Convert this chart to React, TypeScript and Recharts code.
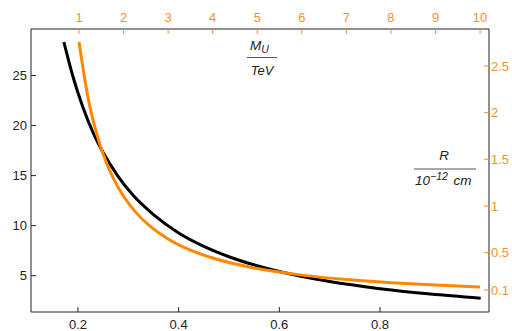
import { ComposedChart, Customized, Line, XAxis, YAxis } from "recharts"

// black curve: bottom axis (R) vs left axis (M_U)
const blackX = [0.172, 0.19, 0.21, 0.23, 0.25, 0.28, 0.31, 0.35, 0.4, 0.45, 0.5, 0.6, 0.7, 0.8, 0.9, 1.0]
const blackY = [28.35, 24.9, 21.8, 19.3, 17.3, 14.9, 13.0, 11.1, 9.27, 7.93, 6.89, 5.41, 4.41, 3.7, 3.16, 2.75]

// orange curve: top axis (M_U / TeV) vs right axis (R / 10^-12 cm)
const orangeX = [1, 1.2, 1.4, 1.6, 1.8, 2, 2.3, 2.6, 3, 3.5, 4, 5, 6, 7, 8, 9, 10]
const orangeY = [2.757, 2.167, 1.768, 1.482, 1.269, 1.104, 0.918, 0.781, 0.647, 0.527, 0.442, 0.329, 0.259, 0.211, 0.177, 0.152, 0.132]

const bottomTicks = [0.2, 0.4, 0.6, 0.8]
const leftTicks = [5, 10, 15, 20, 25]
const topTicks = [1, 2, 3, 4, 5, 6, 7, 8, 9, 10]
const rightTicks = [0.1, 0.5, 1, 1.5, 2, 2.5]

const blackData = blackX.map((r, i) => ({ r, mu: blackY[i] }))
const orangeData = orangeX.map((m, i) => ({ m, rr: orangeY[i] }))

const W = 512
const H = 331
const PLOT = { left: 31, right: 489, top: 29, bottom: 312 }
const FRAME = "#222"
const ORANGE = "#FF8800"
const ORANGE_TEXT = "#F5922F"
const FONT = "'Liberation Sans', Arial, sans-serif"

const BottomTick = (props: any) => {
  const { x, payload } = props
  return (
    <g>
      <line x1={x} x2={x} y1={PLOT.bottom} y2={PLOT.bottom - 5} stroke={FRAME} />
      <text x={x} y={328.5} textAnchor="middle" fontSize={13} fontFamily={FONT} fill="#222">
        {payload.value}
      </text>
    </g>
  )
}

const LeftTick = (props: any) => {
  const { y, payload } = props
  return (
    <g>
      <line x1={PLOT.left} x2={PLOT.left + 5} y1={y} y2={y} stroke={FRAME} />
      <text x={27} y={y + 4.6} textAnchor="end" fontSize={13} fontFamily={FONT} fill="#222">
        {payload.value}
      </text>
    </g>
  )
}

const TopTick = (props: any) => {
  const { x, payload } = props
  return (
    <g>
      <line x1={x} x2={x} y1={PLOT.top} y2={PLOT.top + 5} stroke={ORANGE_TEXT} />
      <text x={x} y={21.7} textAnchor="middle" fontSize={13} fontFamily={FONT} fill={ORANGE_TEXT}>
        {payload.value}
      </text>
    </g>
  )
}

const RightTick = (props: any) => {
  const { y, payload } = props
  return (
    <g>
      <line x1={PLOT.right - 5} x2={PLOT.right} y1={y} y2={y} stroke={ORANGE_TEXT} />
      <text x={491} y={y + 4.6} textAnchor="start" fontSize={13} fontFamily={FONT} fill={ORANGE_TEXT}>
        {payload.value}
      </text>
    </g>
  )
}

// the two fraction labels drawn inside the plot
const AxisLabels = () => (
  <g fontFamily={FONT} fill="#222" fontStyle="italic">
    <text x={250} y={49.5} fontSize={13.5}>
      M<tspan fontSize={10.5} dy={3}>U</tspan>
    </text>
    <line x1={247} x2={277} y1={57.5} y2={57.5} stroke="#555" />
    <text x={262} y={75} fontSize={13} textAnchor="middle">TeV</text>

    <text x={444} y={160} fontSize={13.5} textAnchor="middle">R</text>
    <line x1={414} x2={476} y1={169} y2={169} stroke="#555" />
    <text x={415} y={185} fontSize={13.5}>
      10<tspan fontSize={10.5} dy={-5}>−12</tspan>
      <tspan dy={5} dx={2}> cm</tspan>
    </text>
  </g>
)

export default function App() {
  return (
    <div style={{ position: "absolute", left: 0, top: 0 }}>
      <ComposedChart width={W} height={H} margin={{ top: 0, right: 0, bottom: 0, left: 0 }}>
        <XAxis
          xAxisId="r"
          type="number"
          dataKey="r"
          orientation="bottom"
          height={H - PLOT.bottom}
          domain={[0.1067, 1.0165]}
          ticks={bottomTicks}
          interval={0}
          allowDataOverflow
          tickLine={false}
          axisLine={{ stroke: FRAME }}
          tick={BottomTick}
        />
        <XAxis
          xAxisId="m"
          type="number"
          dataKey="m"
          orientation="top"
          height={PLOT.top}
          domain={[-0.077, 10.2]}
          ticks={topTicks}
          interval={0}
          allowDataOverflow
          tickLine={false}
          axisLine={{ stroke: FRAME }}
          tick={TopTick}
        />
        <YAxis
          yAxisId="mu"
          type="number"
          orientation="left"
          width={PLOT.left}
          domain={[1.37, 29.65]}
          ticks={leftTicks}
          interval={0}
          allowDataOverflow
          tickLine={false}
          axisLine={{ stroke: FRAME }}
          tick={LeftTick}
        />
        <YAxis
          yAxisId="rr"
          type="number"
          orientation="right"
          width={W - PLOT.right}
          domain={[-0.136, 2.896]}
          ticks={rightTicks}
          interval={0}
          allowDataOverflow
          tickLine={false}
          axisLine={{ stroke: FRAME }}
          tick={RightTick}
        />
        <Line
          xAxisId="r"
          yAxisId="mu"
          data={blackData}
          dataKey="mu"
          type="monotone"
          stroke="#000"
          strokeWidth={3}
          dot={false}
          isAnimationActive={false}
        />
        <Line
          xAxisId="m"
          yAxisId="rr"
          data={orangeData}
          dataKey="rr"
          type="monotone"
          stroke={ORANGE}
          strokeWidth={3}
          dot={false}
          isAnimationActive={false}
        />
        <Customized component={AxisLabels} />
      </ComposedChart>
    </div>
  )
}
